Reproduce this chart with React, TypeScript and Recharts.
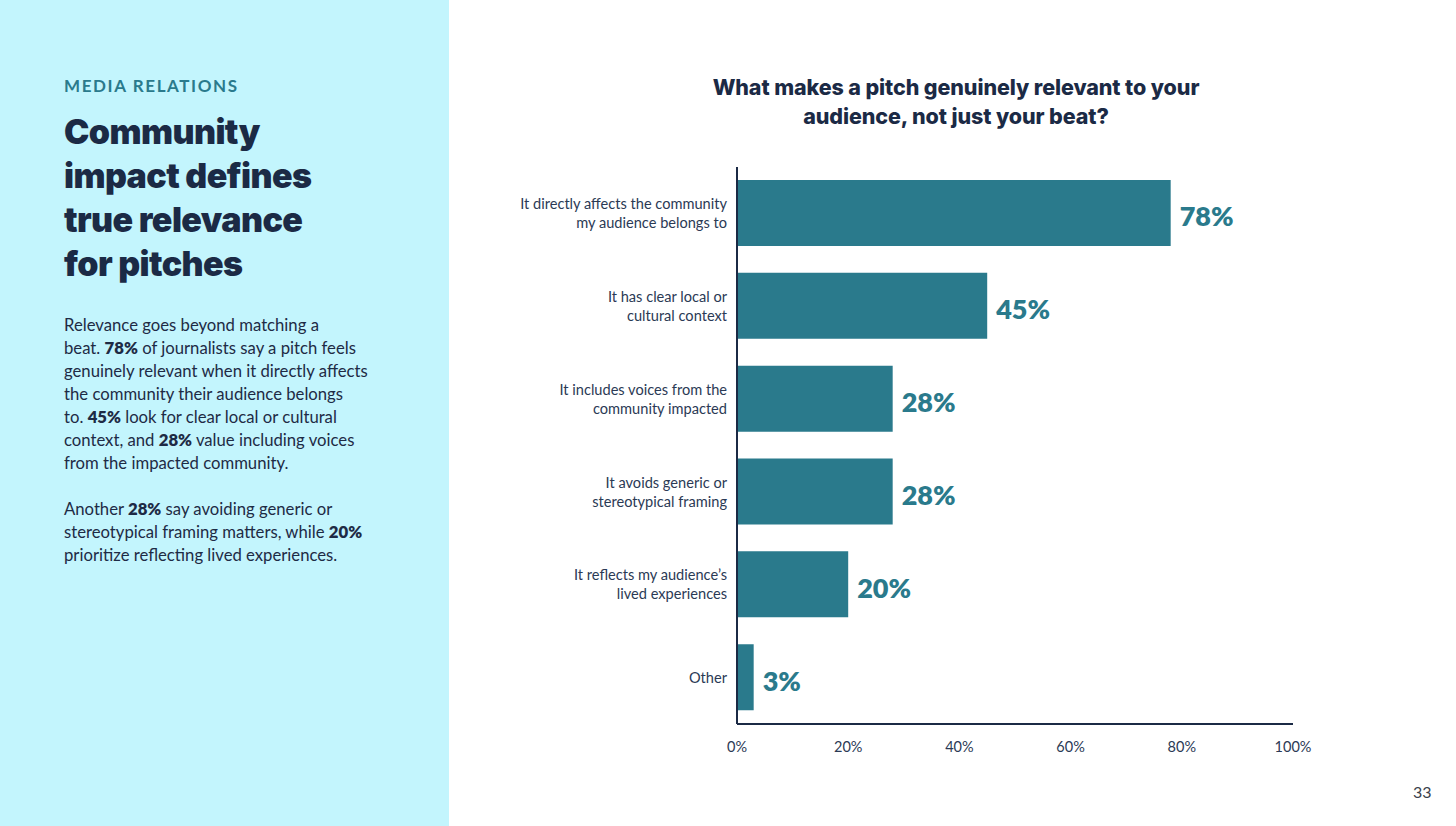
import React from 'react';
import { BarChart, Bar, XAxis, YAxis, LabelList } from 'recharts';

// Survey answers, top to bottom
const answers = [
  'It directly affects the community\nmy audience belongs to',
  'It has clear local or\ncultural context',
  'It includes voices from the\ncommunity impacted',
  'It avoids generic or\nstereotypical framing',
  'It reflects my audience’s\nlived experiences',
  'Other',
];
const shares = [78, 45, 28, 28, 20, 3];
const xTicks = [0, 20, 40, 60, 80, 100];

const TEAL = '#2a7a8c';
const NAVY = '#1b2a45';
const FONT = 'Lato, "Open Sans", sans-serif';
const HEAVY = 'Inter, Lato, sans-serif';

const data = answers.map((answer, i) => ({ answer, share: shares[i] }));

const AnswerTick = (props: any) => {
  const { x, y, payload } = props;
  const lines: string[] = String(payload.value).split('\n');
  const lh = 19;
  const start = -((lines.length - 1) * lh) / 2;
  return (
    <text x={x} y={y} textAnchor="end" fontFamily={FONT} fontSize={14.6} fill="#2b3a55">
      {lines.map((l, i) => (
        <tspan key={i} x={x} y={y + start + i * lh} dy="0.35em">
          {l}
        </tspan>
      ))}
    </text>
  );
};

// value label sitting just right of each bar, a touch below centre
const ShareLabel = (props: any) => {
  const { x, y, width, height, value } = props;
  return (
    <text
      x={x + width + 9}
      y={y + height / 2 + 4}
      dy="0.35em"
      fontFamily={FONT}
      fontSize={27}
      fontWeight={800}
      fill={TEAL}
    >
      {`${value}%`}
    </text>
  );
};

const Bold = ({ children }: { children: React.ReactNode }) => (
  <b style={{ fontWeight: 800 }}>{children}</b>
);

export default function App() {
  return (
    <div
      style={{
        position: 'absolute',
        left: 0,
        top: 0,
        width: 1456,
        height: 826,
        background: '#ffffff',
        fontFamily: FONT,
        overflow: 'hidden',
      }}
    >
      {/* left info panel */}
      <div style={{ position: 'absolute', left: 0, top: 0, width: 449, height: 826, background: '#c3f5fd' }}>
        <div
          style={{
            position: 'absolute',
            left: 64,
            top: 75,
            fontSize: 17,
            fontWeight: 700,
            letterSpacing: 1.6,
            color: TEAL,
          }}
        >
          MEDIA RELATIONS
        </div>
        <div
          style={{
            position: 'absolute',
            left: 64,
            top: 110,
            fontFamily: HEAVY,
            fontSize: 34,
            lineHeight: '44px',
            fontWeight: 900,
            letterSpacing: -0.6,
            color: NAVY,
          }}
        >
          Community
          <br />
          impact defines
          <br />
          true relevance
          <br />
          for pitches
        </div>
        <div
          style={{
            position: 'absolute',
            left: 64,
            top: 314,
            fontSize: 16.7,
            lineHeight: '23px',
            color: '#1e2b45',
          }}
        >
          Relevance goes beyond matching a
          <br />
          beat. <Bold>78%</Bold> of journalists say a pitch feels
          <br />
          genuinely relevant when it directly affects
          <br />
          the community their audience belongs
          <br />
          to. <Bold>45%</Bold> look for clear local or cultural
          <br />
          context, and <Bold>28%</Bold> value including voices
          <br />
          from the impacted community.
          <div style={{ height: 23 }} />
          Another <Bold>28%</Bold> say avoiding generic or
          <br />
          stereotypical framing matters, while <Bold>20%</Bold>
          <br />
          prioritize reflecting lived experiences.
        </div>
      </div>

      {/* chart title */}
      <div
        style={{
          position: 'absolute',
          left: 656,
          top: 73,
          width: 600,
          textAlign: 'center',
          fontFamily: HEAVY,
          fontSize: 21.5,
          lineHeight: '29px',
          fontWeight: 800,
          letterSpacing: -0.1,
          color: NAVY,
        }}
      >
        What makes a pitch genuinely relevant to your
        <br />
        audience, not just your beat?
      </div>

      <div style={{ position: 'absolute', left: 450, top: 140 }}>
        <BarChart
          width={900}
          height={640}
          data={data}
          layout="vertical"
          margin={{ top: 27, right: 57, bottom: 26, left: 0 }}
        >
          <XAxis
            type="number"
            domain={[0, 100]}
            ticks={xTicks}
            tickFormatter={(v) => `${v}%`}
            axisLine={{ stroke: NAVY, strokeWidth: 2 }}
            tickLine={false}
            tick={{ fontFamily: FONT, fontSize: 14.5, fill: '#2b3a55' }}
            tickMargin={12}
            height={30}
            interval={0}
          />
          <YAxis
            type="category"
            dataKey="answer"
            width={287}
            axisLine={{ stroke: NAVY, strokeWidth: 2 }}
            tickLine={false}
            tick={<AnswerTick />}
            tickMargin={4}
            interval={0}
          />
          <Bar dataKey="share" fill={TEAL} barSize={66} isAnimationActive={false}>
            <LabelList dataKey="share" content={<ShareLabel />} />
          </Bar>
        </BarChart>
      </div>

      <div style={{ position: 'absolute', left: 1413, top: 782, fontSize: 16, color: '#3a3f4a' }}>33</div>
    </div>
  );
}
